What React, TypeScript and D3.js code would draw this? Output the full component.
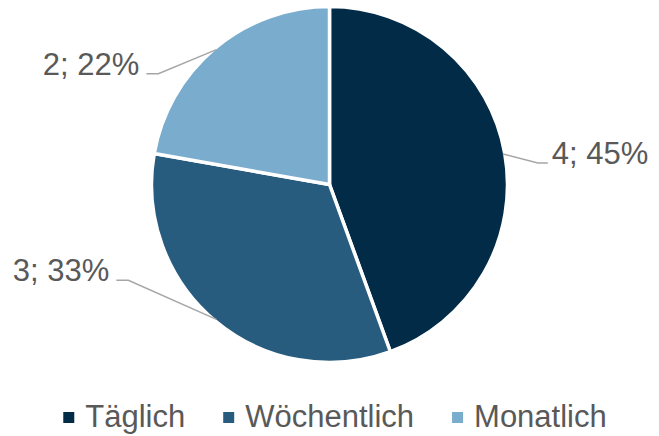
import React from 'react';
import * as d3 from 'd3';

const categories = ['Täglich', 'Wöchentlich', 'Monatlich'];
const counts = [4, 3, 2];
const percentLabels = ['45%', '33%', '22%'];
const colors = ['#022B48', '#275C7F', '#7AACCE'];

// leader line bend offsets (from the slice edge) and text side, per slice
const leaderBends = [
  {dx: 35, dy: 9, tail: 10, side: 'right'},
  {dx: -88, dy: -39, tail: -12, side: 'left'},
  {dx: -58, dy: 24, tail: -12, side: 'left'},
];

const W = 659;
const H = 436;
const cx = 329.5;
const cy = 184.5;
const R = 178;
const font = '"Liberation Sans", Arial, sans-serif';
const textColor = '#595959';

function measure(text: string, size: number) {
  const c = document.createElement('canvas').getContext('2d');
  if (!c) return text.length * size * 0.55;
  c.font = `${size}px ${font}`;
  return c.measureText(text).width;
}

export default function App() {
  const data = categories.map((c, i) => ({name: c, value: counts[i], pct: percentLabels[i], color: colors[i]}));
  const pie = d3.pie<any>().sort(null).value((d) => d.value);
  const arcs = pie(data);
  const arcGen = d3.arc<any>().innerRadius(0).outerRadius(R);
  const edgeArc = d3.arc<any>().innerRadius(R - 2).outerRadius(R - 2);

  // legend layout
  const fs = 31;
  const sq = 11;
  const gapSqText = 22;
  const gapItems = 38;
  const widths = categories.map((c) => sq + (gapSqText - sq) + measure(c, fs));
  const total = widths.reduce((a, b) => a + b, 0) + gapItems * (categories.length - 1);
  let lx = 335 - total / 2;
  const legendX = widths.map((w) => {
    const x = lx;
    lx += w + gapItems;
    return x;
  });

  return (
    <svg width={W} height={H} style={{position: 'absolute', left: 0, top: 0, background: '#fff'}}>
      <g transform={`translate(${cx},${cy})`}>
        {arcs.map((a, i) => (
          <path key={i} d={arcGen(a) as string} fill={a.data.color} stroke="#fff" strokeWidth={3.5} strokeLinejoin="round" />
        ))}
        {arcs.map((a, i) => {
          const [sx, sy] = edgeArc.centroid(a);
          const b = leaderBends[i];
          const bx = sx + b.dx;
          const by = sy + b.dy;
          const ex = bx + b.tail;
          const right = b.side === 'right';
          return (
            <g key={'l' + i}>
              <polyline points={`${sx},${sy} ${bx},${by} ${ex},${by}`} fill="none" stroke="#A6A6A6" strokeWidth={1.5} />
              <text
                x={right ? ex + 4 : ex - 7}
                y={by + 1}
                textAnchor={right ? 'start' : 'end'}
                fontFamily={font}
                fontSize={fs}
                fill={textColor}
              >
                {`${a.data.value}; ${a.data.pct}`}
              </text>
            </g>
          );
        })}
      </g>
      <g>
        {categories.map((c, i) => (
          <g key={c} transform={`translate(${legendX[i]},0)`}>
            <rect x={0} y={412} width={sq} height={sq} fill={colors[i]} />
            <text x={gapSqText} y={427} fontFamily={font} fontSize={fs} fill={textColor}>
              {c}
            </text>
          </g>
        ))}
      </g>
    </svg>
  );
}
